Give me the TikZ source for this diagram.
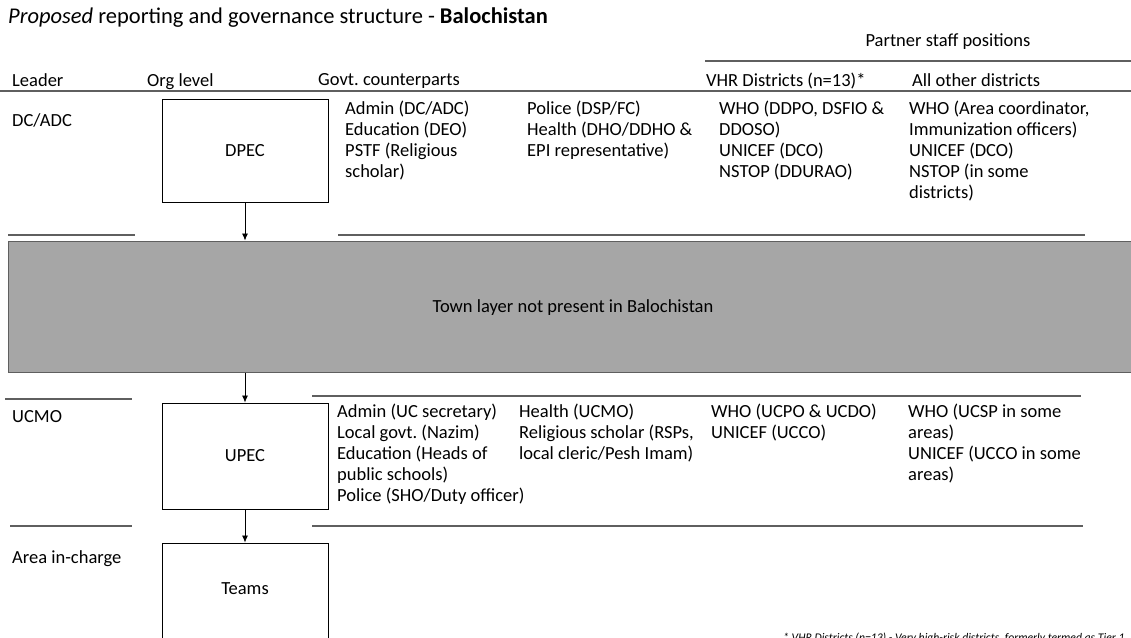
\documentclass[tikz,border=0pt]{standalone}
\usepackage{fontspec}
\setmainfont{Carlito}
\usetikzlibrary{arrows.meta}
\definecolor{layergray}{RGB}{166,166,166}
\definecolor{rulegray}{RGB}{95,95,95}
\tikzset{
  orgbox/.style={draw=black,line width=0.9pt,minimum width=166pt,inner sep=0pt,font=\fontsize{18.5}{21}\selectfont},
  cell/.style={anchor=north west,inner sep=0pt,align=left,font=\fontsize{18.5}{21}\selectfont},
  rowrule/.style={draw=rulegray,line width=1.3pt},
  down/.style={-{Latex[length=7pt,width=6pt]},line width=0.8pt}
}
\frenchspacing
\begin{document}
\begin{tikzpicture}[x=1pt,y=-1pt]
\useasboundingbox (0,0) rectangle (1131,637);
\clip (0,0) rectangle (1131,637);
% title and headings
\node[anchor=west,inner sep=0pt,font=\fontsize{22.5}{27}\selectfont] (title) at (8,18)
  {\textit{Proposed} reporting and governance structure - \textbf{Balochistan}};
\node[cell,anchor=center] (partner) at (948,42) {Partner staff positions};
\node[cell] (hlead) at (12,73) {Leader};
\node[cell] (hlevel) at (147,73) {Org level};
\node[cell] (hgovt) at (318,73) {Govt.\ counterparts};
\node[cell] (hvhr) at (706,73) {VHR Districts (n=13)*};
\node[cell] (hother) at (912,73) {All other districts};
\draw[rowrule] (705,61) -- (1131,61);
\draw[rowrule] (0,91) -- (1131,91);
% org levels
\node[orgbox,minimum height=103pt] (dpec) at (245,151) {DPEC};
\node[draw=rulegray,fill=layergray,line width=1pt,minimum width=1140pt,minimum height=131pt,
  inner sep=0pt] (town) at (578,306.5) {};
\node[font=\fontsize{18.5}{21}\selectfont] (towntxt) at (573,308) {Town layer not present in Balochistan};
\node[orgbox,minimum height=106pt] (upec) at (245,456) {UPEC};
\node[orgbox,minimum height=126pt] (teams) at (245,606) {};
\node[font=\fontsize{18.5}{21}\selectfont] (teamstxt) at (245,589) {Teams};
\draw[down] (dpec) -- (dpec |- town.north);
\draw[down] (upec |- town.south) -- (upec);
\draw[down] (upec) -- (teams);
% district row
\node[cell] (ldc) at (12,113) {DC/ADC};
\node[cell] (gdc1) at (345,101) {Admin (DC/ADC)\\Education (DEO)\\PSTF (Religious\\scholar)};
\node[cell] (gdc2) at (527,101) {Police (DSP/FC)\\Health (DHO/DDHO \&\\EPI representative)};
\node[cell] (vdc) at (719,101) {WHO (DDPO, DSFIO \&\\DDOSO)\\UNICEF (DCO)\\NSTOP (DDURAO)};
\node[cell] (odc) at (909,101) {WHO (Area coordinator,\\Immunization officers)\\UNICEF (DCO)\\NSTOP (in some\\districts)};
\draw[rowrule] (8,235) -- (135,235);
\draw[rowrule] (338,235) -- (1085,235);
% union council row
\draw[rowrule] (5,399) -- (132,399);
\draw[rowrule] (312,396) -- (1081,396);
\node[cell] (luc) at (12,410) {UCMO};
\node[cell] (guc1) at (337,404) {Admin (UC secretary)\\Local govt.\ (Nazim)\\Education (Heads of\\public schools)\\Police (SHO/Duty officer)};
\node[cell] (guc2) at (519,404) {Health (UCMO)\\Religious scholar (RSPs,\\local cleric/Pesh Imam)};
\node[cell] (vuc) at (711,404) {WHO (UCPO \& UCDO)\\UNICEF (UCCO)};
\node[cell] (ouc) at (908,404) {WHO (UCSP in some\\areas)\\UNICEF (UCCO in some\\areas)};
\draw[rowrule] (10,526) -- (132,526);
\draw[rowrule] (312,526) -- (1083,526);
% area row
\node[cell] (larea) at (12,550) {Area in-charge};
\node[anchor=base west,inner sep=0pt,font=\fontsize{11.7}{14}\selectfont\itshape] (foot) at (783,641)
  {* VHR Districts (n=13) - Very high-risk districts, formerly termed as Tier 1};
\end{tikzpicture}
\end{document}
